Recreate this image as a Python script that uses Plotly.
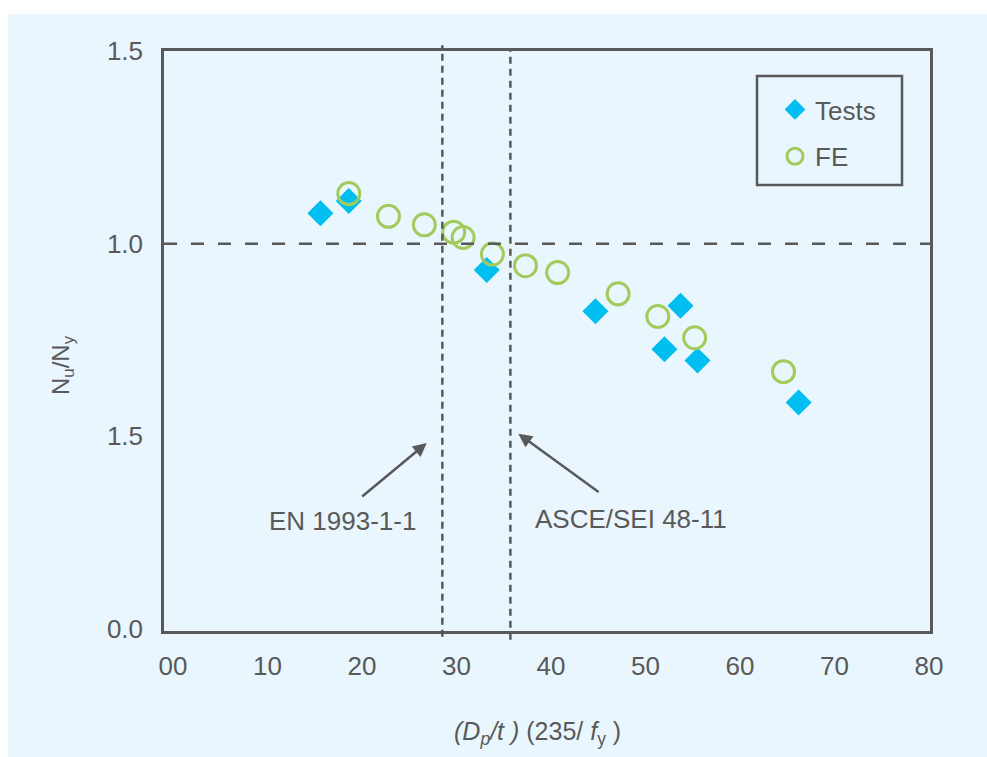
import plotly.graph_objects as go

# ---- data ----
tests_x = [15.6, 18.6, 33.2, 44.7, 52.0, 53.7, 55.5, 66.2]
tests_y = [1.079, 1.111, 0.932, 0.825, 0.726, 0.839, 0.697, 0.588]

fe_x = [18.6, 22.8, 26.6, 29.7, 30.7, 33.8, 37.3, 40.7, 47.1, 51.3, 55.2, 64.6]
fe_y = [1.130, 1.071, 1.049, 1.030, 1.016, 0.973, 0.943, 0.925, 0.870, 0.811, 0.756, 0.668]

x_tickvals = [0, 10, 20, 30, 40, 50, 60, 70, 80]
x_ticktext = ["00", "10", "20", "30", "40", "50", "60", "70", "80"]
y_tickvals = [0.0, 0.5, 1.0, 1.5]
y_ticktext = ["0.0", "1.5", "1.0", "1.5"]

limit_en = 28.5
limit_asce = 35.7
ref_y = 1.0

GRAY = "#595959"
FONT = "Liberation Sans, Arial, sans-serif"
BG = "#E9F6FD"

fig = go.Figure()
fig.add_trace(go.Scatter(
    x=tests_x, y=tests_y, mode="markers", name="Tests", legendgroup="a",
    marker=dict(symbol="diamond", size=20, color="#00BFF0", line=dict(width=0)),
))
fig.add_trace(go.Scatter(
    x=fe_x, y=fe_y, mode="markers", name="FE", legendgroup="b",
    marker=dict(symbol="circle-open", size=22, color="#A2CB5C", line=dict(width=3, color="#A2CB5C")),
))

L, R, T, B = 164, 57, 51, 126
W, H = 987, 757
pw, ph = W - L - R, H - T - B

def px_to_paper_x(p):
    return (p - L) / pw

def px_to_paper_y(p):
    return (H - B - p) / ph

shapes = [
    # background panel
    dict(type="rect", xref="paper", yref="paper",
         x0=px_to_paper_x(8), x1=px_to_paper_x(W + 2),
         y0=px_to_paper_y(H + 2), y1=px_to_paper_y(14),
         fillcolor=BG, line=dict(width=0), layer="below"),
    # reference lines
    dict(type="line", xref="paper", yref="y", x0=0, x1=1, y0=ref_y, y1=ref_y,
         line=dict(color=GRAY, width=2.5, dash="13px,14px")),
    dict(type="line", xref="x", yref="paper", x0=limit_en, x1=limit_en, y0=-0.01, y1=1.01,
         line=dict(color=GRAY, width=2.5, dash="7px,5px")),
    dict(type="line", xref="x", yref="paper", x0=limit_asce, x1=limit_asce, y0=-0.015, y1=1.0,
         line=dict(color=GRAY, width=2.5, dash="7px,5px")),
    # legend box
    dict(type="rect", xref="paper", yref="paper",
         x0=px_to_paper_x(757), x1=px_to_paper_x(902),
         y0=px_to_paper_y(185), y1=px_to_paper_y(76),
         line=dict(color=GRAY, width=2.5), fillcolor="rgba(0,0,0,0)"),
]

annotations = [
    dict(x=26.85, y=0.483, ax=19.86, ay=0.341, xref="x", yref="y", axref="x", ayref="y",
         text="", showarrow=True, arrowhead=2, arrowsize=1.1, arrowwidth=2.5, arrowcolor=GRAY),
    dict(x=36.54, y=0.507, ax=45.19, ay=0.353, xref="x", yref="y", axref="x", ayref="y",
         text="", showarrow=True, arrowhead=2, arrowsize=1.1, arrowwidth=2.5, arrowcolor=GRAY),
    dict(x=17.9, y=0.28, xref="x", yref="y", text="EN 1993-1-1", showarrow=False,
         xanchor="center", yanchor="middle",
         font=dict(size=26, color=GRAY, family=FONT)),
    dict(x=48.5, y=0.285, xref="x", yref="y", text="ASCE/SEI 48-11", showarrow=False,
         xanchor="center", yanchor="middle",
         font=dict(size=26, color=GRAY, family=FONT)),
    # axis titles
    dict(x=px_to_paper_x(537), y=px_to_paper_y(733), xref="paper", yref="paper",
         xanchor="center", yanchor="middle",
         text="<i>(D<sub>p</sub>/t )</i> (235/ <i>f</i><sub>y</sub> )", showarrow=False,
         font=dict(size=25, color=GRAY, family=FONT)),
    dict(x=px_to_paper_x(62), y=px_to_paper_y(365), xref="paper", yref="paper",
         xanchor="center", yanchor="middle",
         text="N<sub>u</sub>/N<sub>y</sub>", textangle=-90, showarrow=False,
         font=dict(size=24, color=GRAY, family=FONT)),
]

fig.update_layout(
    width=W, height=H,
    margin=dict(l=L, r=R, t=T, b=B, pad=0),
    paper_bgcolor="white",
    plot_bgcolor="rgba(0,0,0,0)",
    font=dict(family=FONT, color=GRAY, size=24),
    shapes=shapes,
    annotations=annotations,
    showlegend=True,
    legend=dict(
        x=px_to_paper_x(775), y=px_to_paper_y(86), xanchor="left", yanchor="top",
        bgcolor="rgba(0,0,0,0)", borderwidth=0,
        font=dict(size=26, color=GRAY, family=FONT),
        traceorder="grouped", tracegroupgap=10,
    ),
)

fig.update_xaxes(
    range=[-0.95, 80.1], tickvals=x_tickvals, ticktext=x_ticktext,
    showgrid=False, zeroline=False, showline=True, mirror=True,
    linecolor=GRAY, linewidth=2.5, ticks="", ticklabelstandoff=10,
    tickfont=dict(size=26, color=GRAY, family=FONT),
)
fig.update_yaxes(
    range=[-0.005, 1.5], tickvals=y_tickvals, ticktext=y_ticktext,
    showgrid=False, zeroline=False, showline=True, mirror=True,
    linecolor=GRAY, linewidth=2.5, ticks="", ticklabelstandoff=13,
    tickfont=dict(size=26, color=GRAY, family=FONT),
)

fig.write_html(
    "out.html",
    config={"displayModeBar": False},
    post_script="document.body.style.margin='0';document.body.style.overflow='hidden';",
)
